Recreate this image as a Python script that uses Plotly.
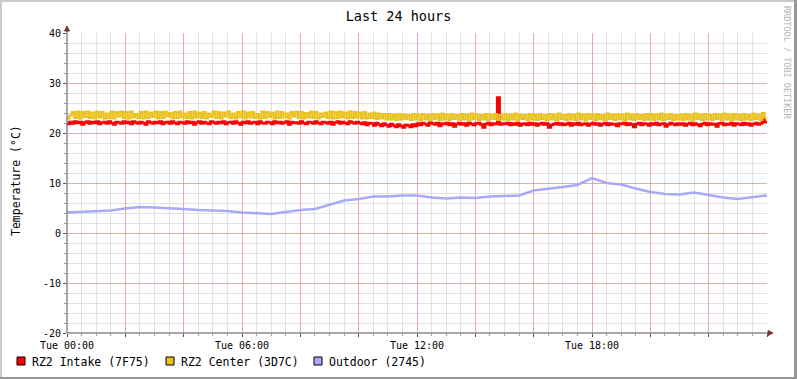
import plotly.graph_objects as go

# ---------------- data ----------------
TITLE = "Last 24 hours"
Y_TITLE = "Temperature (°C)"
SERIES_NAMES = ["RZ2 Intake (7F75)", "RZ2 Center (3D7C)", "Outdoor (2745)"]
SERIES_COLORS = ["#FF0000", "#EAC21E", "#A9A9F8"]
X_TICK_VALUES = [0, 6, 12, 18]
X_TICK_LABELS = ["Tue 00:00", "Tue 06:00", "Tue 12:00", "Tue 18:00"]
Y_TICK_VALUES = [-20, -10, 0, 10, 20, 30, 40]
Y_TICK_LABELS = ["-20", "-10", "0", "10", "20", "30", "40"]

# 5-minute samples, hours 0..24 (12 per hour + final point)
intake = [
    21.8,22.2,21.9,22.3,22.0,22.2,21.7,22.1,22.3,21.9,22.2,22.0,
    22.3,21.8,22.1,22.2,21.9,22.3,22.0,21.7,22.2,22.1,21.9,22.3,
    22.0,22.2,21.8,22.3,22.1,21.9,22.2,22.0,21.7,22.3,22.1,21.9,
    22.2,22.0,22.3,21.8,22.1,22.2,21.9,22.3,22.0,21.8,22.2,22.1,
    21.9,22.3,22.0,22.2,21.7,22.1,22.3,21.9,22.2,22.0,21.8,22.3,
    22.1,21.9,22.2,22.0,22.3,21.8,22.1,22.2,21.9,22.3,22.0,21.7,
    22.2,22.0,22.3,21.9,22.1,22.2,21.8,22.3,22.0,21.9,22.2,22.1,
    21.8,22.3,22.0,22.2,21.9,22.1,22.3,21.7,22.2,22.0,22.1,21.9,
    22.3,22.0,21.8,22.2,22.1,21.9,22.3,22.0,21.8,22.2,22.1,21.9,
    22.2,21.7,22.1,22.3,21.9,22.2,22.0,21.8,22.3,22.1,21.9,22.2,
    22.0,21.8,22.1,21.6,22.0,21.9,21.5,22.0,21.7,21.4,21.9,21.6,
    21.3,21.8,21.5,21.2,21.7,21.4,21.1,21.6,21.5,21.2,21.7,21.4,
    21.9,21.6,22.0,21.8,21.5,22.1,21.9,21.7,22.0,21.4,21.9,21.8,
    22.0,21.6,21.9,21.3,21.8,22.0,21.7,21.9,21.5,22.0,21.8,21.6,
    21.9,22.0,21.7,21.1,21.8,22.0,21.6,21.9,21.8,27.1,21.7,21.9,
    21.8,22.0,21.6,21.9,21.7,22.0,21.5,21.8,21.9,21.6,22.0,21.7,
    21.9,21.5,21.8,22.0,21.7,21.9,21.1,21.6,21.8,22.0,21.7,21.9,
    21.6,21.8,22.0,21.5,21.9,21.7,22.0,21.6,21.8,21.9,21.5,21.8,
    22.0,21.7,21.9,21.5,21.8,22.0,21.6,21.9,21.7,21.8,21.4,21.9,
    21.8,22.0,21.6,21.9,21.7,21.2,21.8,22.0,21.6,21.9,21.8,21.5,
    21.9,21.7,22.0,21.6,21.8,21.9,21.3,21.7,22.0,21.8,21.6,21.9,
    21.7,21.9,21.5,21.8,22.0,21.6,21.9,21.7,21.4,21.8,22.0,21.6,
    21.9,21.7,21.8,21.3,21.9,22.0,21.6,21.8,21.7,22.0,21.5,21.9,
    21.8,21.6,22.0,21.7,21.9,21.5,21.8,22.0,21.7,21.9,23.0,22.2,
    21.9,
]

center = [
    22.9,23.5,24.2,23.0,24.3,22.9,24.2,23.2,24.3,23.0,24.1,22.9,
    24.3,23.1,24.2,22.9,23.9,23.0,24.3,22.9,24.2,23.3,24.3,23.0,
    24.2,22.9,24.3,23.1,23.8,23.0,24.2,22.9,24.3,23.0,24.1,23.2,
    24.3,22.9,24.2,23.0,24.3,23.3,24.0,22.9,24.2,23.0,24.3,23.1,
    23.9,23.0,24.2,22.9,24.3,23.1,24.1,23.0,24.2,22.9,23.9,23.2,
    24.3,23.0,24.2,22.9,24.1,23.3,24.3,23.0,23.9,22.9,24.2,23.1,
    24.3,22.9,24.1,23.1,24.2,23.0,23.8,22.9,24.3,23.0,24.2,23.2,
    24.1,22.9,24.3,23.0,24.2,23.1,23.9,22.9,24.2,23.3,24.3,23.0,
    24.2,22.9,24.0,23.1,24.3,23.0,24.2,22.9,23.9,23.2,24.1,23.0,
    24.3,22.9,24.2,23.0,24.3,23.1,24.1,22.9,24.3,23.0,24.2,23.1,
    24.1,22.9,24.2,22.9,23.9,23.0,24.1,22.8,23.9,22.9,23.8,22.7,
    23.8,22.7,23.7,22.6,23.8,22.7,23.7,22.8,23.6,22.6,23.8,22.7,
    23.7,22.6,23.8,22.7,23.6,22.5,23.8,22.8,23.7,22.6,23.9,22.7,
    23.7,22.6,23.8,22.8,23.6,22.6,23.8,22.7,23.7,22.5,23.9,22.8,
    23.7,22.6,23.6,22.7,23.8,22.6,23.7,22.8,23.8,22.6,23.6,22.7,
    23.8,22.6,23.7,22.7,23.9,22.5,23.7,22.8,23.6,22.6,23.8,22.7,
    23.7,22.6,23.8,22.8,23.6,22.5,23.8,22.7,23.7,22.6,23.9,22.8,
    23.6,22.6,23.8,22.7,23.7,22.6,23.9,22.7,23.7,22.5,23.8,22.8,
    23.7,22.6,23.8,22.7,23.6,22.6,23.9,22.8,23.7,22.6,23.8,22.7,
    23.7,22.5,23.9,22.7,23.7,22.6,23.8,22.8,23.6,22.6,23.8,22.7,
    23.8,22.6,23.7,22.7,23.9,22.6,23.7,22.8,23.8,22.6,23.6,22.7,
    23.7,22.6,23.8,22.7,23.7,22.5,23.9,22.8,23.7,22.6,23.8,22.7,
    23.6,22.6,23.8,22.8,23.7,22.6,23.9,22.7,23.7,22.5,23.8,22.7,
    23.7,22.6,23.8,22.7,23.6,22.6,23.9,22.8,23.7,22.6,24.0,23.0,
    22.9,
]
sample_hours = [i * 5 / 60 for i in range(len(intake))]

# 30-minute samples
outdoor_hours = [i * 0.5 for i in range(49)]
outdoor = [
    4.1, 4.2, 4.4, 4.5, 4.9, 5.2, 5.1, 5.0, 4.8, 4.6,
    4.5, 4.4, 4.1, 3.9, 3.8, 4.2, 4.6, 4.8, 5.7, 6.5,
    6.8, 7.3, 7.3, 7.5, 7.5, 7.1, 6.9, 7.1, 7.0, 7.3,
    7.4, 7.5, 8.5, 8.8, 9.2, 9.6, 11.0, 10.0, 9.7, 8.9,
    8.2, 7.8, 7.7, 8.1, 7.6, 7.1, 6.8, 7.1, 7.5,
]

# ---------------- layout geometry ----------------
WIDTH, HEIGHT = 797, 379
L, R, T, B = 67, 30, 33, 46
PW, PH = WIDTH - L - R, HEIGHT - T - B
FONT = "DejaVu Sans Mono"


def px(x):
    return (x - L) / PW


def py(y):
    return (T + PH - y) / PH


fig = go.Figure()
fig.add_trace(go.Scatter(x=sample_hours, y=intake, mode="lines", line_shape="hv",
                         line=dict(color=SERIES_COLORS[0], width=2.6), name=SERIES_NAMES[0],
                         showlegend=False))
fig.add_trace(go.Scatter(x=sample_hours, y=center, mode="lines", line_shape="hv",
                         line=dict(color=SERIES_COLORS[1], width=2.2), name=SERIES_NAMES[1],
                         showlegend=False))
fig.add_trace(go.Scatter(x=outdoor_hours, y=outdoor, mode="lines",
                         line=dict(color=SERIES_COLORS[2], width=2.5), name=SERIES_NAMES[2],
                         showlegend=False))

major_x = list(range(0, 25, 2))
major_text = [X_TICK_LABELS[X_TICK_VALUES.index(v)] if v in X_TICK_VALUES else "" for v in major_x]

shapes = []
# frame borders
shapes.append(dict(type="rect", xref="paper", yref="paper", x0=px(0), x1=px(WIDTH), y0=py(0), y1=py(2),
                   fillcolor="#CBCBCB", line_width=0, layer="above"))
shapes.append(dict(type="rect", xref="paper", yref="paper", x0=px(0), x1=px(2), y0=py(0), y1=py(HEIGHT),
                   fillcolor="#CBCBCB", line_width=0, layer="above"))
shapes.append(dict(type="rect", xref="paper", yref="paper", x0=px(0), x1=px(WIDTH), y0=py(377), y1=py(HEIGHT),
                   fillcolor="#999999", line_width=0, layer="above"))
shapes.append(dict(type="rect", xref="paper", yref="paper", x0=px(794), x1=px(WIDTH), y0=py(0), y1=py(HEIGHT),
                   fillcolor="#999999", line_width=0, layer="above"))
# axis lines
shapes.append(dict(type="line", xref="paper", yref="paper", x0=px(L), x1=px(769), y0=py(T + PH), y1=py(T + PH),
                   line=dict(color="#555050", width=1), layer="above"))
shapes.append(dict(type="line", xref="paper", yref="paper", x0=px(L), x1=px(L), y0=py(T + PH), y1=py(29),
                   line=dict(color="#555050", width=1), layer="above"))
# arrows
ax_y = T + PH
shapes.append(dict(type="path", xref="paper", yref="paper",
                   path=f"M {px(768)} {py(ax_y - 2.5)} L {px(773)} {py(ax_y)} L {px(768)} {py(ax_y + 2.5)} Z",
                   fillcolor="#7F3131", line=dict(color="#7F3131", width=1), layer="above"))
shapes.append(dict(type="path", xref="paper", yref="paper",
                   path=f"M {px(L - 2.5)} {py(31)} L {px(L)} {py(26)} L {px(L + 2.5)} {py(31)} Z",
                   fillcolor="#7F3131", line=dict(color="#7F3131", width=1), layer="above"))

annotations = []
legend_box_x = [17, 166, 314]
for i, (name, col) in enumerate(zip(SERIES_NAMES, SERIES_COLORS)):
    bx = legend_box_x[i]
    shapes.append(dict(type="rect", xref="paper", yref="paper", x0=px(bx), x1=px(bx + 8),
                       y0=py(357), y1=py(365), fillcolor=col, line=dict(color="#000000", width=1),
                       layer="above"))
    annotations.append(dict(xref="paper", yref="paper", x=px(bx + 13), y=py(361.5), text=name,
                            showarrow=False, xanchor="left", yanchor="middle",
                            font=dict(family=FONT, size=11.5, color="#000000")))

annotations.append(dict(xref="paper", yref="paper", x=px(16), y=py(181), text=Y_TITLE, textangle=-90,
                        showarrow=False, xanchor="center", yanchor="middle",
                        font=dict(family=FONT, size=11.5, color="#000000")))
annotations.append(dict(xref="paper", yref="paper", x=px(787), y=py(63), text="RRDTOOL / TOBI OETIKER",
                        textangle=90, showarrow=False, xanchor="center", yanchor="middle",
                        font=dict(family=FONT, size=8.5, color="#B4B4B4")))

fig.update_layout(
    width=WIDTH, height=HEIGHT,
    margin=dict(l=L, r=R, t=T, b=B, pad=0, autoexpand=False),
    paper_bgcolor="#FFFFFF", plot_bgcolor="#FFFFFF",
    title=dict(text=TITLE, xref="container", x=0.5, xanchor="center",
               y=1 - 16 / HEIGHT, yanchor="middle",
               font=dict(family=FONT, size=13.5, color="#000000")),
    showlegend=False,
    shapes=shapes,
    annotations=annotations,
    xaxis=dict(
        range=[0, 24], tickmode="array", tickvals=major_x, ticktext=major_text,
        showgrid=True, gridcolor="rgba(235,120,120,0.5)", gridwidth=1,
        zeroline=False, showline=False,
        ticks="outside", ticklen=3, tickcolor="#555050",
        tickfont=dict(family=FONT, size=10, color="#000000"),
        minor=dict(tick0=0, dtick=0.5, showgrid=True, gridcolor="#E2E2E2", gridwidth=1,
                   ticks="outside", ticklen=2, tickcolor="#999999"),
        fixedrange=True,
    ),
    yaxis=dict(
        range=[-20, 40], tickmode="array", tickvals=Y_TICK_VALUES, ticktext=Y_TICK_LABELS,
        showgrid=True, gridcolor="rgba(235,120,120,0.5)", gridwidth=1,
        zeroline=False, showline=False,
        ticks="outside", ticklen=3, tickcolor="#555050",
        tickfont=dict(family=FONT, size=10, color="#000000"),
        minor=dict(tick0=0, dtick=2, showgrid=True, gridcolor="#E2E2E2", gridwidth=1,
                   ticks="outside", ticklen=2, tickcolor="#999999"),
        fixedrange=True,
    ),
)

fig.write_html("out.html", config={"displayModeBar": False},
               post_script="document.body.style.margin='0';document.body.style.padding='0';"
                           "document.documentElement.style.overflow='hidden';")
